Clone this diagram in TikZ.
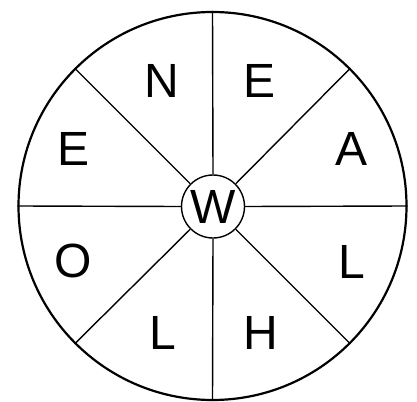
\documentclass[tikz,border=0pt]{standalone}
\usepackage{fontspec}
\setmainfont{Liberation Sans}
\begin{document}
\begin{tikzpicture}[x=1pt,y=-1pt,
  letter/.style={inner sep=0pt, font=\fontsize{48}{48}\selectfont},
  rim/.style={circle, draw, line width=2.2pt, minimum size=388pt, inner sep=0pt},
  hub/.style={circle, draw, line width=1.4pt, minimum size=63pt, inner sep=0pt, font=\fontsize{48}{48}\selectfont},
  spoke/.style={line width=1.4pt}]
\useasboundingbox (0,0) rectangle (417,401);
\node[rim] (outer) at (212.5,206) {};
\node[hub] (W) at (213,206.5) {W};
\foreach \a in {0,45,...,315}{
  \draw[spoke] (W.\a) -- (outer.\a);
}
\node[letter] (n) at (162,81) {N};
\node[letter] (e1) at (260,81) {E};
\node[letter] (e2) at (74,149) {E};
\node[letter] (a) at (352,149) {A};
\node[letter] (o) at (73,261) {O};
\node[letter] (l1) at (352,262) {L};
\node[letter] (l2) at (163,333) {L};
\node[letter] (h) at (261,333) {H};
\end{tikzpicture}
\end{document}
